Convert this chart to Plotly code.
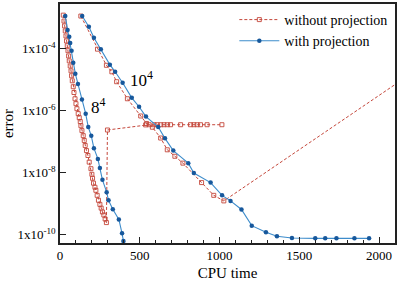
import plotly.graph_objects as go

# ---- data (CPU time, error) ----
t_8_noproj = [20.6, 25, 28.8, 33, 37.5, 41, 45.6, 50, 54, 58, 64, 69, 72.5, 77, 83, 87.5, 94, 100,
              106, 114, 120.6, 127, 131, 137.5, 145.6, 152, 158, 166, 175, 183, 194, 200, 204, 210,
              219, 225, 233, 241, 250, 258, 266, 275, 283, 291, 297.5,
              537, 558, 590, 610, 631, 652, 673, 693, 756, 818, 839, 860, 881, 922, 1015]
e_8_noproj = [1.23e-3, 7.9e-4, 5.5e-4, 3.8e-4, 2.6e-4, 1.8e-4, 1.26e-4, 8.7e-5, 5.9e-5, 4.1e-5,
              2.8e-5, 1.95e-5, 1.35e-5, 9.3e-6, 6.0e-6, 3.9e-6, 2.45e-6, 1.7e-6, 1.17e-6, 8.1e-7,
              6.0e-7, 4.5e-7, 3.3e-7, 2.3e-7, 1.58e-7, 1.1e-7, 7.6e-8, 5.2e-8, 3.6e-8, 2.2e-8,
              1.35e-8, 8.9e-9, 6.6e-9, 4.6e-9, 3.4e-9, 2.7e-9, 1.86e-9, 1.29e-9, 9.5e-10, 7.2e-10,
              5.4e-10, 4.3e-10, 3.2e-10, 2.45e-10, 2.4e-7,
              3.5e-7, 3.55e-7, 3.55e-7, 3.55e-7, 3.55e-7, 3.55e-7, 3.55e-7, 3.55e-7, 3.55e-7,
              3.55e-7, 3.55e-7, 3.55e-7, 3.55e-7, 3.55e-7, 3.55e-7]

t_10_noproj = [130.6, 235, 291, 325, 355, 422.5, 506, 542.5, 579, 631, 672.5, 720, 770.6, 887.5,
               964, 1027, 2400]
e_10_noproj = [1.15e-3, 9.8e-5, 2.95e-5, 1.82e-5, 8.7e-6, 2.45e-6, 6.8e-7, 3.9e-7, 2.95e-7,
               1.32e-7, 5.5e-8, 3.4e-8, 2.04e-8, 4.8e-9, 1.86e-9, 1.23e-9, 7.9e-5]

t_8_proj = [33, 47.5, 58, 64, 72.5, 83, 96, 112.5, 137.5, 161, 177, 196, 212.5, 237.5, 250, 266,
            292.5, 304, 331, 369, 389, 397.5]
e_8_proj = [1.15e-3, 4.1e-4, 2.45e-4, 1.55e-4, 8.7e-5, 3.55e-5, 1.58e-5, 7.4e-6, 2.3e-6, 8.1e-7,
            3.0e-7, 1.55e-7, 6.2e-8, 2.8e-8, 1.41e-8, 5.9e-9, 2.35e-9, 1.29e-9, 6.6e-10, 3.1e-10,
            1.1e-10, 6.2e-11]

t_10_proj = [139, 181, 212.5, 256, 312.5, 345.6, 392.5, 450, 495.6, 539, 616, 658, 710, 804, 839,
             944, 1016, 1069, 1137.5, 1202, 1291, 1360, 1454, 1600, 1662.5, 1733, 1845.6, 1937.5]
e_10_proj = [1.15e-3, 5.2e-4, 2.3e-4, 9.8e-5, 3.1e-5, 1.82e-5, 8.1e-6, 2.63e-6, 1.35e-6, 6.5e-7,
             3.0e-7, 1.29e-7, 5.2e-8, 2.04e-8, 9.8e-9, 4.8e-9, 1.86e-9, 1.23e-9, 6.5e-10,
             1.95e-10, 1.2e-10, 8.9e-11, 7.8e-11, 7.6e-11, 7.6e-11, 7.6e-11, 7.6e-11, 7.6e-11]

y_tick_vals = [1e-10, 1e-8, 1e-6, 1e-4]
y_tick_text = ["1x10<sup>-10</sup>", "1x10<sup>-8</sup>", "1x10<sup>-6</sup>", "1x10<sup>-4</sup>"]
x_tick_vals = [0, 500, 1000, 1500, 2000]

RED = "#c4463a"
BLUE_LINE = "#3d8ccb"
BLUE_MARK = "#17589c"
FONT = "'Liberation Serif', 'Times New Roman', 'DejaVu Serif', serif"

fig = go.Figure()

red_line = dict(color=RED, width=1, dash="3px,2px")
red_marker = dict(symbol="square-open", size=4, color=RED, line=dict(width=0.9, color=RED))
blue_line = dict(color=BLUE_LINE, width=1.1)
blue_marker = dict(symbol="circle", size=4.5, color=BLUE_MARK)

fig.add_trace(go.Scatter(x=t_8_noproj, y=e_8_noproj, mode="lines+markers", line=red_line,
                         marker=red_marker, name="without projection"))
fig.add_trace(go.Scatter(x=t_10_noproj, y=e_10_noproj, mode="lines+markers", line=red_line,
                         marker=red_marker, name="without projection", showlegend=False))
fig.add_trace(go.Scatter(x=t_8_proj, y=e_8_proj, mode="lines+markers", line=blue_line,
                         marker=blue_marker, name="with projection"))
fig.add_trace(go.Scatter(x=t_10_proj, y=e_10_proj, mode="lines+markers", line=blue_line,
                         marker=blue_marker, name="with projection", showlegend=False))

fig.add_annotation(x=242, y=-5.83, xref="x", yref="y", text="8<sup>4</sup>", showarrow=False,
                   font=dict(family=FONT, size=17, color="black"))
fig.add_annotation(x=508, y=-4.96, xref="x", yref="y", text="10<sup>4</sup>", showarrow=False,
                   font=dict(family=FONT, size=17, color="black"))

axis_common = dict(showline=True, linecolor="#222", linewidth=1.5, mirror=True, ticks="inside",
                   tickcolor="#222", tickwidth=1.2, ticklen=6, showgrid=False, zeroline=False,
                   tickfont=dict(family=FONT, size=13, color="black"))

fig.update_xaxes(range=[0, 2100], tickvals=x_tick_vals,
                 title=dict(text="CPU time", font=dict(family=FONT, size=15, color="black"), standoff=5),
                 minor=dict(dtick=100, ticks="inside", ticklen=3, tickcolor="#222", tickwidth=1),
                 **axis_common)
fig.update_yaxes(type="log", range=[-10.27, -2.55], tickvals=y_tick_vals, ticktext=y_tick_text,
                 title=dict(text="error", font=dict(family=FONT, size=15, color="black"), standoff=4),
                 **axis_common)

fig.update_layout(
    width=399, height=282,
    margin=dict(l=60, r=2, t=3, b=39),
    paper_bgcolor="white", plot_bgcolor="white",
    font=dict(family=FONT, size=13, color="black"),
    legend=dict(x=0.995, y=1.0, xanchor="right", yanchor="top", bgcolor="rgba(0,0,0,0)",
                font=dict(family=FONT, size=14), itemwidth=40, tracegroupgap=0),
)

fig.write_html("out.html", config={"displayModeBar": False},
               post_script="document.body.style.margin='0';")
